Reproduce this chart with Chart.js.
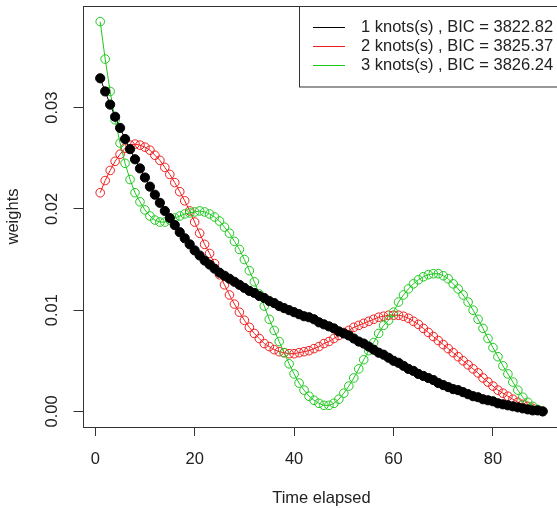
<!DOCTYPE html>
<html>
<head>
<meta charset="utf-8">
<script src="https://cdn.jsdelivr.net/npm/chart.js@4.4.1/dist/chart.umd.min.js"></script>
<style>
html, body { margin: 0; padding: 0; background: #fff; overflow: hidden; }
#wrap { width: 566px; height: 508px; }
</style>
</head>
<body>
<div id="wrap"><canvas id="chart" width="566" height="508"></canvas></div>
<script>
const times = [1,2,3,4,5,6,7,8,9,10,11,12,13,14,15,16,17,18,19,20,
  21,22,23,24,25,26,27,28,29,30,31,32,33,34,35,36,37,38,39,40,
  41,42,43,44,45,46,47,48,49,50,51,52,53,54,55,56,57,58,59,60,
  61,62,63,64,65,66,67,68,69,70,71,72,73,74,75,76,77,78,79,80,
  81,82,83,84,85,86,87,88,89,90];

const oneKnot = [.0329,.0316,.0303,.0291,.0280,.0269,.0259,.0249,.0240,.0231,
  .0222,.0214,.0206,.0198,.0191,.0184,.0177,.0171,.0165,.0159,
  .0154,.0149,.0145,.0141,.0137,.0134,.0131,.0128,.0125,.0122,
  .0119,.0117,.0114,.0112,.0109,.0107,.0104,.0102,.0100,.0098,
  .0096,.0094,.0093,.0091,.0088,.0086,.0084,.0082,.0079,.0077,
  .0075,.0072,.0069,.0067,.0064,.0061,.0058,.0056,.0053,.0050,
  .0048,.0045,.0042,.0040,.0037,.0035,.0033,.0031,.0028,.0026,
  .0024,.0022,.0021,.0019,.0017,.0015,.0014,.0012,.0011,.0010,
  .0008,.0007,.0006,.0005,.0004,.0003,.0002,.0001,.0001,.0000];

const twoKnots = [.0216,.0228,.0238,.0247,.0254,.0260,.0263,.0264,.0263,.0261,
  .0258,.0253,.0248,.0241,.0234,.0226,.0217,.0208,.0198,.0187,
  .0176,.0165,.0156,.0146,.0135,.0125,.0115,.0106,.0098,.0090,
  .0083,.0077,.0072,.0067,.0064,.0061,.0059,.0058,.0057,.0057,
  .0058,.0059,.0060,.0062,.0064,.0067,.0069,.0072,.0075,.0078,
  .0080,.0083,.0085,.0087,.0089,.0091,.0093,.0094,.0095,.0095,
  .0095,.0094,.0092,.0089,.0086,.0082,.0078,.0074,.0070,.0066,
  .0062,.0058,.0054,.0050,.0046,.0042,.0038,.0033,.0029,.0025,
  .0021,.0018,.0015,.0012,.0009,.0007,.0005,.0003,.0001,.0000];

const threeKnots = [.0385,.0348,.0316,.0288,.0265,.0245,.0229,.0216,.0207,.0199,
  .0193,.0189,.0187,.0187,.0189,.0191,.0193,.0195,.0196,.0197,
  .0198,.0197,.0195,.0192,.0188,.0182,.0176,.0168,.0160,.0150,
  .0139,.0128,.0116,.0104,.0091,.0080,.0069,.0058,.0047,.0037,
  .0028,.0021,.0015,.0011,.0008,.0006,.0006,.0008,.0012,.0018,
  .0025,.0033,.0042,.0051,.0060,.0068,.0077,.0085,.0090,.0098,
  .0108,.0115,.0121,.0126,.0130,.0133,.0135,.0136,.0136,.0134,
  .0131,.0126,.0121,.0115,.0108,.0100,.0091,.0082,.0072,.0063,
  .0054,.0045,.0037,.0029,.0021,.0014,.0009,.0005,.0002,.0000];

const seriesLabels = ["1 knots(s) , BIC = 3822.82", "2 knots(s) , BIC = 3825.37", "3 knots(s) , BIC = 3826.24"];
const seriesColors = ["#000000", "#f01c1c", "#1ec81e"];
const xTicks = [0, 20, 40, 60, 80];
const yTicks = [0, 0.01, 0.02, 0.03];
const yTickLabels = ["0.00", "0.01", "0.02", "0.03"];

const FONT = '"Liberation Sans", Arial, sans-serif';
const FS = 16.5;

function pts(vals) {
  return times.map((t, i) => ({x: t, y: vals[i]}));
}

// box, rotated y labels and legend, R style
const rStyle = {
  id: 'rStyle',
  beforeDatasetsDraw(chart) {
    const {ctx, chartArea: a} = chart;
    ctx.save();
    ctx.strokeStyle = '#333';
    ctx.lineWidth = 1;
    ctx.strokeRect(Math.round(a.left) + 0.5, Math.round(a.top) + 0.5,
      Math.round(a.right - a.left), Math.round(a.bottom - a.top));
    ctx.restore();
  },
  afterDraw(chart) {
    const {ctx, scales: {y}} = chart;
    ctx.save();
    ctx.fillStyle = '#222';
    ctx.font = FS + 'px ' + FONT;
    ctx.textAlign = 'center';
    ctx.textBaseline = 'middle';
    y.ticks.forEach((t, i) => {
      ctx.save();
      ctx.translate(52, y.getPixelForValue(t.value));
      ctx.rotate(-Math.PI / 2);
      ctx.fillText(yTickLabels[i], 0, 0);
      ctx.restore();
    });

    // legend
    const lx = 299, ly = 6, rowH = 19;
    ctx.fillStyle = '#fff';
    ctx.fillRect(lx + 0.5, ly + 0.5, 300, 80.5);
    ctx.strokeStyle = '#333';
    ctx.lineWidth = 1;
    ctx.strokeRect(lx + 0.5, ly + 0.5, 300, 80.5);
    seriesLabels.forEach((lab, i) => {
      const cy = ly + 21.5 + i * rowH;
      ctx.save();
      ctx.lineWidth = 1;
      ctx.strokeStyle = seriesColors[i];
      ctx.beginPath();
      ctx.moveTo(313, Math.floor(cy) + 0.5);
      ctx.lineTo(345, Math.floor(cy) + 0.5);
      ctx.stroke();
      ctx.restore();
      ctx.fillStyle = '#222';
      ctx.textAlign = 'left';
      ctx.textBaseline = 'middle';
      ctx.fillText(lab, 361, cy);
    });
    ctx.restore();
  }
};

function makeSet(i, vals, filled) {
  return {
    label: seriesLabels[i],
    data: pts(vals),
    order: [0, 2, 1][i],
    borderColor: seriesColors[i],
    borderWidth: 1,
    pointRadius: filled ? 4.6 : 4.3,
    pointBorderWidth: 1,
    pointBorderColor: seriesColors[i],
    pointBackgroundColor: filled ? seriesColors[i] : 'rgba(0,0,0,0)',
    tension: 0,
    fill: false
  };
}

new Chart(document.getElementById("chart"), {
  type: 'line',
  data: {
    datasets: [
      makeSet(0, oneKnot, true),
      makeSet(1, twoKnots, false),
      makeSet(2, threeKnots, false)
    ]
  },
  options: {
    responsive: false,
    animation: false,
    layout: { padding: { top: 6, right: 2, left: 0, bottom: 0 } },
    plugins: { legend: { display: false }, tooltip: { enabled: false } },
    scales: {
      x: {
        type: 'linear',
        min: -2.56,
        max: 93.56,
        afterBuildTicks: s => { s.ticks = xTicks.map(v => ({value: v})); },
        afterFit: s => { s.height = 81; },
        border: { display: false },
        grid: { drawOnChartArea: false, drawTicks: true, tickLength: 9, color: '#333' },
        ticks: { color: '#222', font: { family: FONT, size: FS }, padding: 14, autoSkip: false, maxRotation: 0 },
        title: { display: true, text: 'Time elapsed', color: '#222', font: { family: FONT, size: FS }, padding: { top: 0, bottom: 0 } }
      },
      y: {
        type: 'linear',
        min: -0.00154,
        max: 0.04004,
        afterBuildTicks: s => { s.ticks = yTicks.map(v => ({value: v})); },
        afterFit: s => { s.width = 82.5; },
        border: { display: false },
        grid: { drawOnChartArea: false, drawTicks: true, tickLength: 9, color: '#333' },
        ticks: { display: false },
        title: { display: true, text: 'weights', color: '#222', font: { family: FONT, size: FS }, padding: { top: 3.6, bottom: 0 } }
      }
    }
  },
  plugins: [rStyle]
});
</script>
</body>
</html>
